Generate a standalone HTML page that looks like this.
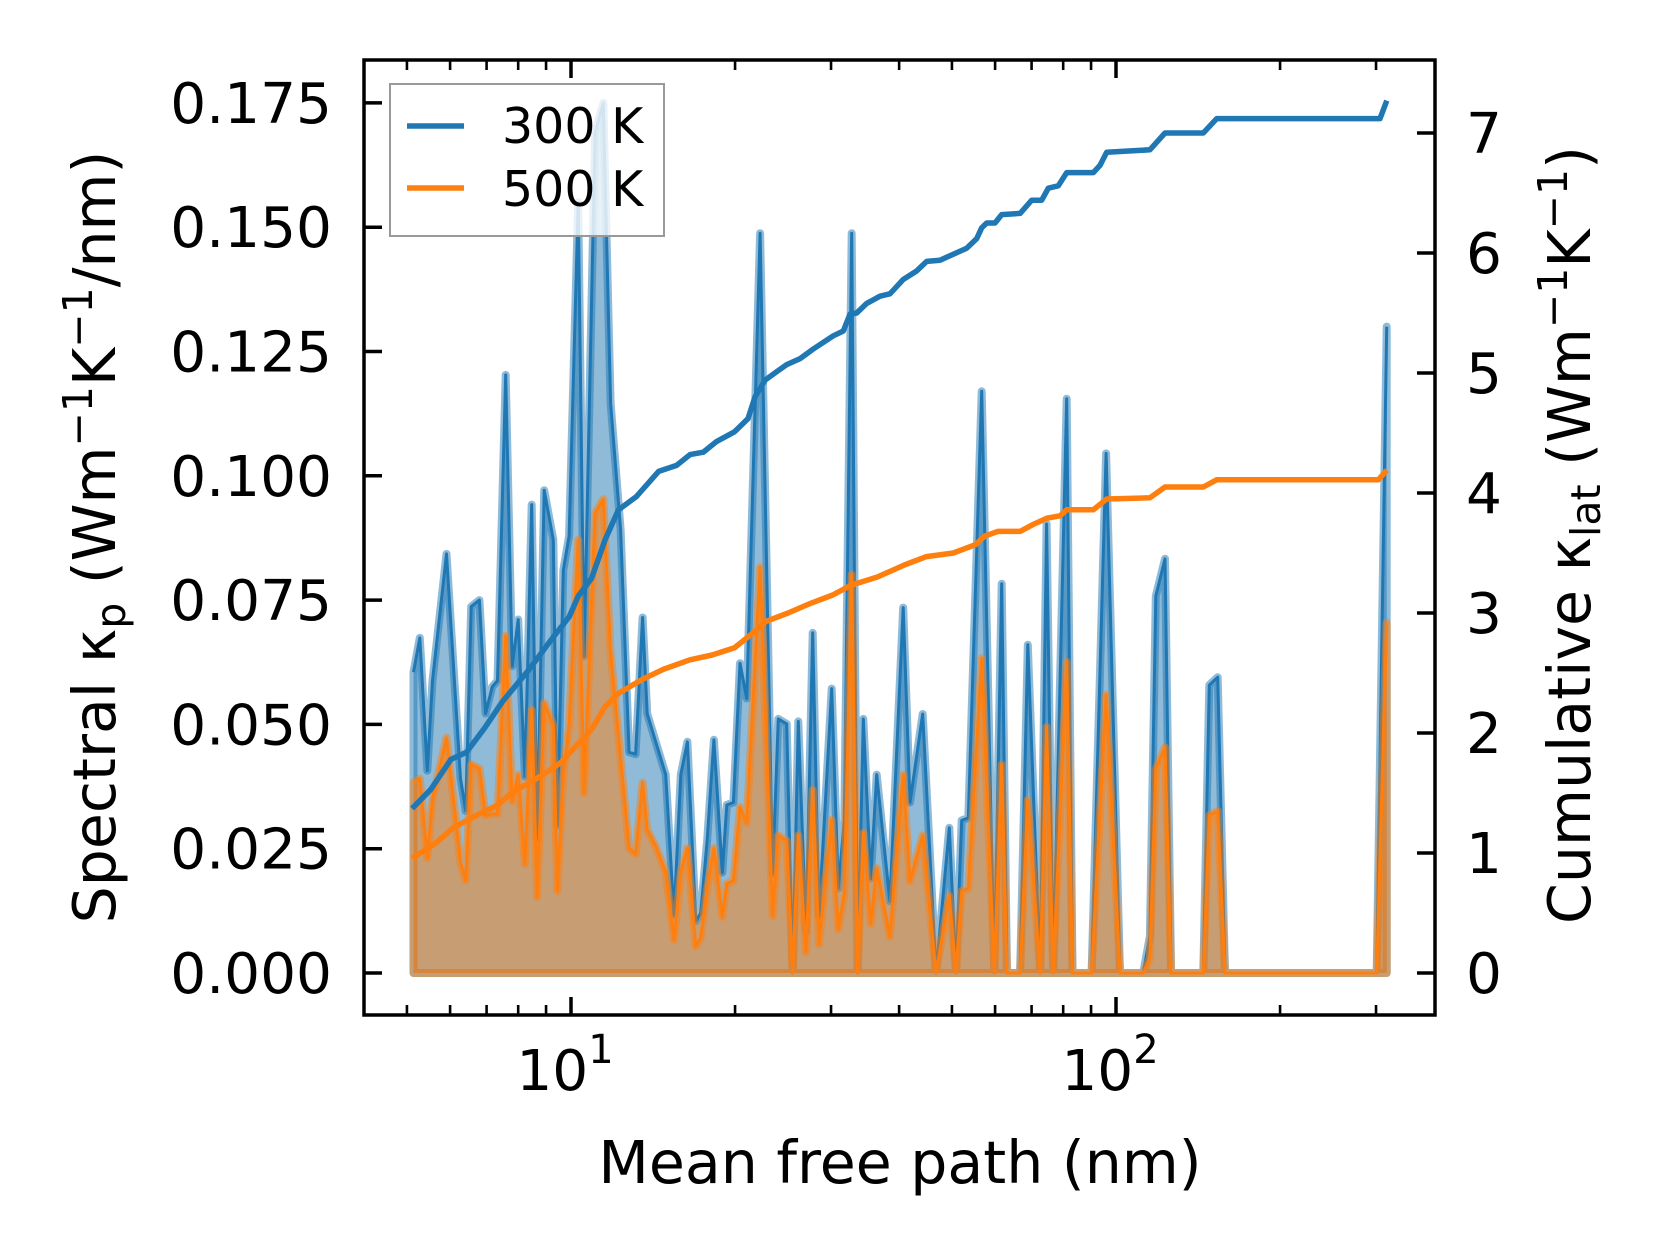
<!DOCTYPE html>
<html><head><meta charset="utf-8"><style>
html,body{margin:0;padding:0;background:#fff;}
svg{display:block;font-family:"DejaVu Sans","Liberation Sans",sans-serif;}
</style></head><body>
<svg id="chart" width="1660" height="1254" viewBox="0 0 1660 1254" xmlns="http://www.w3.org/2000/svg">
<rect x="0" y="0" width="1660" height="1254" fill="#fff"/>
<g id="plot"></g>
<g id="axes"></g>
</svg>
<script>
const mfp = [5.14,5.28,5.45,5.57,5.91,6.27,6.41,6.56,6.79,6.97,7.17,7.33,7.59,7.80,8.00,8.23,8.47,8.67,8.93,9.28,9.44,9.68,9.92,10.31,10.57,11.07,11.46,11.82,12.33,12.78,13.14,13.53,13.80,14.30,14.92,15.45,15.90,16.35,16.94,17.30,17.78,18.29,18.95,19.31,19.86,20.42,21.01,22.23,23.44,24.01,24.88,25.51,26.12,26.99,27.76,28.51,30.08,30.94,31.73,32.74,33.57,34.38,35.47,36.38,38.47,40.7,41.88,44.19,46.75,49.44,50.86,52.1,53.58,56.7,59.8,61.7,63.1,66.7,68.9,72.6,74.6,76.7,81.2,83.2,90.2,95.9,101.7,112.2,115.4,118.3,123.0,126.2,144.6,148.3,153.7,158.5,300.8,313.8];
const spec300 = [0.0605,0.0674,0.0407,0.0588,0.0843,0.0391,0.0326,0.0737,0.0750,0.0522,0.0576,0.0588,0.1203,0.0617,0.0711,0.0395,0.0942,0.0272,0.0971,0.0871,0.0297,0.081,0.0879,0.155,0.0637,0.169,0.175,0.1146,0.0892,0.0444,0.0440,0.0715,0.0522,0.0465,0.0399,0.0117,0.0399,0.0465,0.0104,0.012,0.0268,0.0469,0.0202,0.0338,0.0343,0.0623,0.0552,0.1488,0.020,0.0511,0.0501,0,0.0506,0.0083,0.0684,0.0114,0.0572,0.017,0.0307,0.1488,0,0.0511,0.019,0.0399,0.0144,0.0735,0.0343,0.0521,0,0.0292,0,0.0307,0.0312,0.117,0,0.0783,0,0,0.066,0,0.0903,0,0.1155,0,0,0.1045,0,0,0.0074,0.0758,0.0833,0,0,0.0579,0.0595,0,0,0.130];
const spec500 = [0.0383,0.0391,0.0231,0.035,0.0473,0.0223,0.0186,0.042,0.0411,0.0317,0.032,0.032,0.0678,0.0346,0.0399,0.0219,0.0529,0.0153,0.0543,0.0498,0.0165,0.040,0.0498,0.0871,0.0362,0.0925,0.0953,0.0645,0.0432,0.0251,0.0239,0.0383,0.0288,0.0255,0.0203,0.0067,0.0203,0.0251,0.0054,0.0071,0.0169,0.0251,0.0113,0.018,0.0185,0.0333,0.0302,0.0816,0.0114,0.0277,0.0266,0,0.0277,0.0042,0.0368,0.0058,0.0308,0.0088,0.016,0.0801,0,0.0282,0.0099,0.0211,0.0073,0.0399,0.0185,0.0277,0,0.0155,0,0.0165,0.017,0.0633,0,0.0419,0,0,0.0348,0,0.0495,0,0.0626,0,0,0.056,0,0,0.003,0.041,0.0454,0,0,0.0317,0.0326,0,0,0.0705];
const cumX300 = [5.11,5.53,6.02,6.43,6.94,7.48,8.38,9.21,9.93,10.31,10.91,11.55,12.22,13.18,14.48,15.62,16.53,17.49,18.51,19.95,21.12,21.76,22.70,23.50,24.88,26.32,27.84,30.29,31.59,32.50,33.43,34.88,36.90,38.48,40.72,43.07,44.94,47.54,50.29,53.21,55.52,56.71,57.92,59.98,61.71,66.69,70.04,73.07,75.14,78.38,81.21,90.84,93.45,96.14,115.4,123.0,144.6,153.0,305.1,313.9];
const cum300 = [1.37,1.53,1.78,1.84,2.04,2.26,2.53,2.78,2.97,3.14,3.29,3.61,3.86,3.97,4.18,4.23,4.32,4.34,4.43,4.51,4.62,4.80,4.94,4.99,5.07,5.12,5.20,5.31,5.35,5.49,5.50,5.58,5.64,5.66,5.78,5.85,5.93,5.94,5.99,6.04,6.12,6.21,6.25,6.25,6.32,6.33,6.44,6.44,6.54,6.56,6.67,6.67,6.73,6.84,6.86,7.00,7.00,7.12,7.12,7.27];
const cumX500 = [5.11,5.64,6.08,6.81,7.34,7.77,8.87,9.56,10.31,10.91,11.55,12.22,13.43,14.76,16.53,18.16,19.95,21.52,22.78,25.02,27.50,30.21,32.58,36.49,40.88,44.91,50.29,55.28,57.38,60.77,66.69,70.61,74.64,78.94,81.21,90.84,96.14,115.4,123.0,144.6,153.0,302.9,313.9];
const cum500 = [0.956,1.08,1.21,1.33,1.40,1.50,1.65,1.75,1.91,2.03,2.22,2.33,2.44,2.53,2.61,2.65,2.71,2.83,2.93,3.00,3.08,3.15,3.23,3.30,3.40,3.47,3.50,3.57,3.64,3.68,3.68,3.74,3.79,3.81,3.86,3.86,3.95,3.96,4.05,4.05,4.11,4.11,4.19];
const leftTicks = ["0.000","0.025","0.050","0.075","0.100","0.125","0.150","0.175"];
const rightTicks = ["0","1","2","3","4","5","6","7"];
const majorX = [10,100];
const minorX = [5,6,7,8,9,20,30,40,50,60,70,80,90,200,300];

const L=364,R=1435,T=60,B=1015;
const NS="http://www.w3.org/2000/svg";
const sx = x => 571 + 545*(Math.log10(x)-1);
const syL = v => 973 - v*4972;
const syR = v => 973 - v*120;
const plot=document.getElementById('plot'), axes=document.getElementById('axes');
function mk(tag, attrs, parent){const e=document.createElementNS(NS,tag);for(const k in attrs)e.setAttribute(k,attrs[k]);parent.appendChild(e);return e;}

function spectral(vals, color, name){
  let pts = mfp.map((x,i)=>sx(x).toFixed(1)+','+syL(vals[i]).toFixed(1));
  const poly = 'M'+sx(mfp[0]).toFixed(1)+','+syL(0)+' L'+pts.join(' L')+' L'+sx(mfp[mfp.length-1]).toFixed(1)+','+syL(0)+' Z';
  const f = mk('path',{d:poly,fill:color,'fill-opacity':0.5,stroke:color,'stroke-opacity':0.5,'stroke-width':8,'stroke-linejoin':'round'},plot);
  
  
  const l = mk('polyline',{points:pts.join(' '),fill:'none',stroke:color,'stroke-width':3,'stroke-linejoin':'round'},plot);
  
  
}
spectral(spec300,'#1f77b4','spectral-300k');
spectral(spec500,'#ff7f0e','spectral-500k');
function cum(xs, vals, color, name){
  const pts = xs.map((x,i)=>sx(x).toFixed(1)+','+syR(vals[i]).toFixed(1)).join(' ');
  const l = mk('polyline',{points:pts,fill:'none',stroke:color,'stroke-width':5.5,'stroke-linejoin':'round'},plot);
  
  
}
cum(cumX300,cum300,'#1f77b4','cumulative-300k');
cum(cumX500,cum500,'#ff7f0e','cumulative-500k');

const fr = mk('rect',{x:L,y:T,width:R-L,height:B-T,fill:'none',stroke:'#000','stroke-width':3.5},axes);


leftTicks.forEach((t,i)=>{
  const y=syL(i*0.025);
  mk('line',{x1:L,x2:L+18,y1:y,y2:y,stroke:'#000','stroke-width':3.5},axes);
  const tx=mk('text',{x:332,y:y+20,'text-anchor':'end','font-size':56.5,fill:'#000'},axes);
  tx.textContent=t;
  
  
});
rightTicks.forEach((t,i)=>{
  const y=syR(i);
  mk('line',{x1:R-18,x2:R,y1:y,y2:y,stroke:'#000','stroke-width':3.5},axes);
  const tx=mk('text',{x:1466,y:y+20,'text-anchor':'start','font-size':56.5,fill:'#000'},axes);
  tx.textContent=t;
  
  
});
majorX.forEach((v,i)=>{
  const x=sx(v);
  mk('line',{x1:x,x2:x,y1:B,y2:B-18,stroke:'#000','stroke-width':3.5},axes);
  mk('line',{x1:x,x2:x,y1:T,y2:T+18,stroke:'#000','stroke-width':3.5},axes);
  const tx=mk('text',{x:x-6,y:1090,'text-anchor':'middle','font-size':56.5,fill:'#000'},axes);
  tx.textContent='10';
  const sp=mk('tspan',{dy:-27,'font-size':40},tx);
  sp.textContent=String(i+1);
  
  
});
minorX.forEach(v=>{
  const x=sx(v);
  mk('line',{x1:x,x2:x,y1:B,y2:B-10,stroke:'#000','stroke-width':2.6},axes);
  mk('line',{x1:x,x2:x,y1:T,y2:T+10,stroke:'#000','stroke-width':2.6},axes);
});
let t=mk('text',{x:900,y:1183,'text-anchor':'middle','font-size':58.5,fill:'#000'},axes);
t.textContent='Mean free path (nm)';


t=mk('text',{x:0,y:0,'text-anchor':'middle','font-size':58.5,fill:'#000',transform:'translate(115,537) rotate(-90)'},axes);
t.innerHTML='Spectral κ<tspan dy="10" font-size="41">p</tspan><tspan dy="-10"> (Wm</tspan><tspan dy="-23" font-size="41">−1</tspan><tspan dy="23">K</tspan><tspan dy="-23" font-size="41">−1</tspan><tspan dy="23">/nm)</tspan>';


t=mk('text',{x:0,y:0,'text-anchor':'middle','font-size':58.5,fill:'#000',transform:'translate(1590,535) rotate(-90)'},axes);
t.innerHTML='Cumulative κ<tspan dy="10" font-size="41">lat</tspan><tspan dy="-10"> (Wm</tspan><tspan dy="-23" font-size="41">−1</tspan><tspan dy="23">K</tspan><tspan dy="-23" font-size="41">−1</tspan><tspan dy="23">)</tspan>';


const lg=mk('g',{},axes);


mk('rect',{x:390,y:84,width:274,height:152,fill:'#fff','fill-opacity':0.8,stroke:'#999','stroke-width':2},lg);
[['300 K','#1f77b4',126,143],['500 K','#ff7f0e',188,206]].forEach(([lab,c,ly,ty])=>{
  const e=mk('g',{},lg);
  
  
  mk('line',{x1:407,x2:464,y1:ly,y2:ly,stroke:c,'stroke-width':5.5},e);
  const tt=mk('text',{x:502,y:ty,'font-size':49,fill:'#000'},e);
  tt.textContent=lab;
});
</script>
</body></html>
